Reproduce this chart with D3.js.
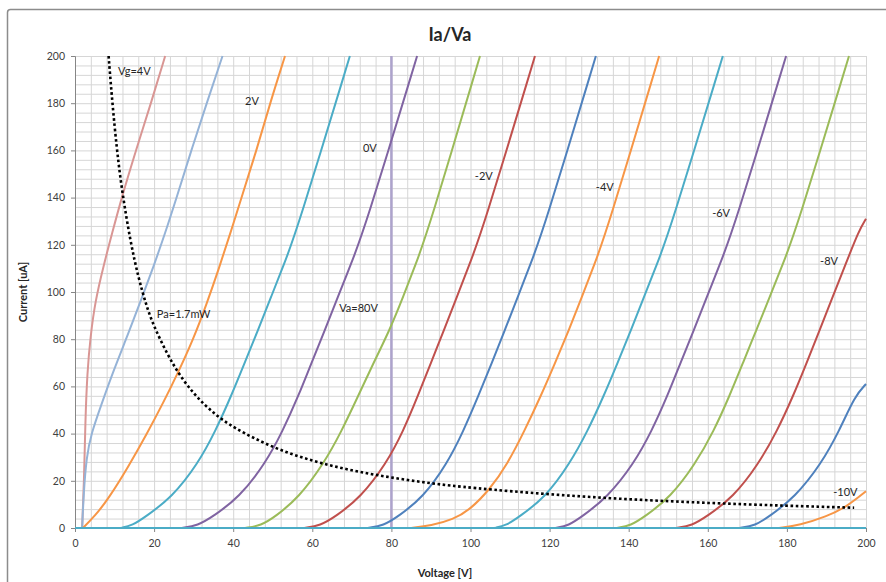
<!DOCTYPE html>
<html>
<head>
<meta charset="utf-8">
<script src="https://cdn.jsdelivr.net/npm/d3@7"></script>
<style>
  body { margin: 0; background: #fff; }
  svg text { font-family: Lato, "Open Sans", sans-serif; }
</style>
</head>
<body>
<div id="chart"></div>
<script>
// grid voltages, one curve each (Va [V], Ia [uA])
var vgNames = ["4V","3V","2V","1V","0V","-1V","-2V","-3V","-4V","-5V","-6V","-7V","-8V","-9V","-10V","-11V"];

var vg4  = [[1.8,0],[2.3,20],[2.6,45],[3.1,66],[3.9,81],[5.1,96],[7.2,111],[9.4,125],[11.8,140],[15.4,160],[19.4,181],[22.8,200]];
var vg3  = [[1.8,0],[2.2,15],[2.9,30],[4.1,40],[6.6,52],[9.8,67],[13.4,82],[16.8,97],[19.9,111],[22.8,125],[25.5,139],[29.4,160],[33.5,181],[37.3,200]];
var vg2  = [[2,0],[5,5],[8.5,12.5],[13.5,26],[18.2,40],[22.3,53],[26.1,66],[29.9,80],[33.3,95],[36.4,110],[39.3,125],[41.9,139],[45.9,160],[49.5,181],[53.1,200]];
var vg1  = [[11.5,0],[14.5,1],[18,5],[24.5,13],[31,27],[35.5,41],[39.5,56],[42.9,70],[46.3,84],[49.6,98],[52.9,112],[56.1,126],[69.5,200]];
var vg0  = [[27,0],[31,1],[35,5],[41.5,13],[48,27],[52.5,41],[56.5,56],[59.8,70],[63.2,84],[66.5,98],[69.8,112],[73.1,126],[86.5,200]];
var vgm1 = [[43,0],[47,1],[50.8,5],[56.6,13],[62.8,27],[67.4,41],[71.6,56],[75.5,70],[79.6,84],[83,98],[86.2,112],[89.3,126],[102.4,200]];
var vgm2 = [[58,0],[62,1],[66,5],[72.2,13],[78.6,27],[83,41],[86.7,56],[90,70],[93.3,84],[96.6,98],[99.8,112],[103,126],[116.3,200]];
var vgm3 = [[74,0],[78,1],[81.8,5],[88,13],[94,27],[98.2,41],[102,56],[105.4,70],[108.7,84],[112,98],[115.2,112],[118.4,126],[131.7,200]];
var vgm4 = [[85,0],[90,1],[95.6,3.6],[99.9,7.8],[104.9,16.4],[109.3,27],[113.6,41],[117.8,56],[121.4,70],[124.9,84],[128.2,98],[131.4,112],[134.5,126],[147.7,200]];
var vgm5 = [[106,0],[109,1],[112.5,5],[118.9,13],[125,27],[129.6,41],[133.7,56],[137.2,70],[140.6,84],[143.9,98],[147.2,112],[150.4,126],[163.8,200]];
var vgm6 = [[121.5,0],[124.8,1],[128.3,5],[134.6,13],[141.2,27],[145.8,41],[149.8,56],[153.1,70],[156.5,84],[159.8,98],[163.1,112],[166.4,126],[179.8,200]];
var vgm7 = [[137,0],[140.5,1],[144.2,5],[150.5,13],[156.8,27],[161.5,41],[165.5,56],[168.9,70],[172.3,84],[175.7,98],[179,112],[182.3,126],[195.7,200]];
var vgm8 = [[152,0],[156,1],[159.8,5],[166.4,13],[172.8,27],[177.5,41],[181.6,56],[185,70],[188.3,84],[191.6,98],[194.9,112],[198.2,126],[200,131]];
var vgm9 = [[168,0],[172,1],[175.6,5],[182,13],[188.6,27],[193.2,41],[197.2,56],[200,61]];
var vgm10 = [[178,0],[183.2,1.2],[190,4.8],[195.1,9],[200,15.6]];
var vgm11 = [[0,0],[200,0]];

var curves = [vg4, vg3, vg2, vg1, vg0, vgm1, vgm2, vgm3, vgm4, vgm5, vgm6, vgm7, vgm8, vgm9, vgm10, vgm11];

// Va = 80V marker and the Pa = 1.7mW power hyperbola
var vaLine = [[80,0],[80,200]];
var paLine = [[8.5,200],[9,189],[10,170],[11,154.5],[12,141.7],[14,121.4],[16,106.3],[18,94.4],[20,85],[25,68],[30,56.7],[35,48.6],[40,42.5],[50,34],[60,28.3],[70,24.3],[80,21.3],[90,18.9],[100,17],[120,14.2],[140,12.1],[160,10.6],[180,9.4],[197,8.6]];

var xTicks = [0,20,40,60,80,100,120,140,160,180,200];
var yTicks = [0,20,40,60,80,100,120,140,160,180,200];

var noteTexts = ["Vg=4V","2V","0V","-2V","-4V","-6V","-8V","-10V","Pa=1.7mW","Va=80V"];
var noteAt = [[10.9,192],[43,179.2],[72.8,159.3],[101.1,147.5],[131.7,142.8],[161.1,131.8],[188.4,111.4],[191.7,13.6],[20.7,89],[66.8,91.5]];

var colors = ["#d99694","#95b3d7","#f79646","#4bacc6","#8064a2","#9bbb59","#c0504d","#4f81bd",
              "#f79646","#4bacc6","#8064a2","#9bbb59","#c0504d","#4f81bd","#f79646","#4bacc6"];

var width = 886, height = 582;
var svg = d3.select("#chart").append("svg")
  .attr("width", width)
  .attr("height", height);

// chart frame
svg.append("rect")
  .attr("x", 7.5).attr("y", 9.5)
  .attr("width", 900).attr("height", 600)
  .attr("rx", 3)
  .style("fill", "#fff")
  .style("stroke", "#8c8c8c")
  .style("stroke-width", 1.5);

var x = d3.scaleLinear().domain([0, 200]).range([75, 866]);
var y = d3.scaleLinear().domain([0, 200]).range([528, 56]);

// minor grid every 4
svg.append("g")
  .attr("transform", "translate(0,528)")
  .call(d3.axisBottom(x).tickValues(d3.range(0, 201, 4)).tickSize(-(528-56)).tickFormat(""))
  .call(function(g){ g.select(".domain").remove(); })
  .selectAll("line").style("stroke", "#d6d6d6");

svg.append("g")
  .attr("transform", "translate(75,0)")
  .call(d3.axisLeft(y).tickValues(d3.range(0, 201, 4)).tickSize(-(866-75)).tickFormat(""))
  .call(function(g){ g.select(".domain").remove(); })
  .selectAll("line").style("stroke", "#d6d6d6");

// axes
var xAxis = svg.append("g")
  .attr("transform", "translate(0,528)")
  .call(d3.axisBottom(x).tickValues(xTicks).tickSize(4).tickPadding(8));
var yAxis = svg.append("g")
  .attr("transform", "translate(75,0)")
  .call(d3.axisLeft(y).tickValues(yTicks).tickSize(4).tickPadding(6));

[xAxis, yAxis].forEach(function(a){
  a.select(".domain").style("stroke", "#868686");
  a.selectAll(".tick line").style("stroke", "#868686");
  a.selectAll("text")
    .style("font-size", "10.5px")
    .style("fill", "#404040")
    .style("font-family", "Lato, 'Open Sans', sans-serif");
});

var line = d3.line()
  .x(function(d){ return x(d[0]); })
  .y(function(d){ return y(d[1]); })
  .curve(d3.curveBasis);

// Va = 80V vertical
svg.append("path")
  .datum(vaLine)
  .attr("d", d3.line().x(function(d){ return x(d[0]); }).y(function(d){ return y(d[1]); }))
  .style("fill", "none")
  .style("stroke", "#ada3cc")
  .style("stroke-width", 2.5);

svg.selectAll("path.curve")
  .data(curves)
  .enter().append("path")
  .attr("class", "curve")
  .attr("d", line)
  .style("fill", "none")
  .style("stroke", function(d, i){ return colors[i]; })
  .style("stroke-width", 2);

// Pa dotted hyperbola
svg.append("path")
  .datum(paLine)
  .attr("d", line)
  .style("fill", "none")
  .style("stroke", "#000")
  .style("stroke-width", 2.6)
  .style("stroke-dasharray", "2.6,2.6");

// labels in the plot
svg.selectAll("text.note")
  .data(noteTexts)
  .enter().append("text")
  .attr("class", "note")
  .attr("x", function(d, i){ return x(noteAt[i][0]); })
  .attr("y", function(d, i){ return y(noteAt[i][1]); })
  .style("font-size", "11px")
  .style("fill", "#262626")
  .text(function(d){ return d; });

// titles
svg.append("text")
  .attr("x", 450).attr("y", 41)
  .attr("text-anchor", "middle")
  .style("font-size", "18px")
  .style("font-weight", "bold")
  .style("fill", "#262626")
  .text("Ia/Va");

svg.append("text")
  .attr("x", 445).attr("y", 577)
  .attr("text-anchor", "middle")
  .style("font-size", "11px")
  .style("font-weight", "bold")
  .style("fill", "#262626")
  .text("Voltage [V]");

svg.append("text")
  .attr("transform", "translate(27,292) rotate(-90)")
  .attr("text-anchor", "middle")
  .style("font-size", "11px")
  .style("font-weight", "bold")
  .style("fill", "#262626")
  .text("Current [uA]");
</script>
</body>
</html>
